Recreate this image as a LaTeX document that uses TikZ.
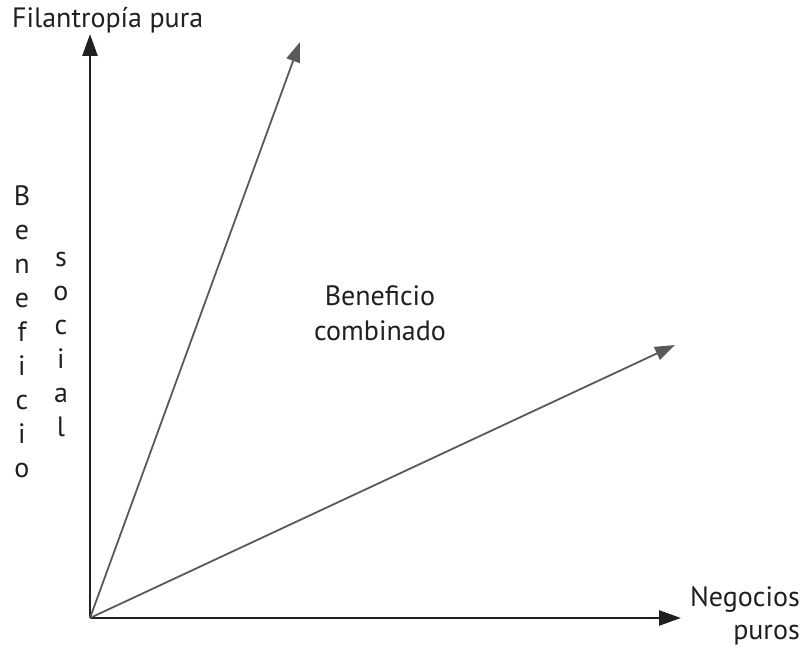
\documentclass[tikz,border=0pt]{standalone}
\usepackage{fontspec}
\setmainfont{PT Sans}
\definecolor{axisblack}{RGB}{35, 31, 32}
\definecolor{raygray}{RGB}{88, 89, 91}
\usetikzlibrary{arrows.meta, positioning}

\begin{document}
\begin{tikzpicture}[
  x=1pt, y=-1pt,
  axis/.style={draw=axisblack, line width=2.4pt, -{Triangle[length=22pt, width=15pt]}},
  ray/.style={draw=raygray, line width=1.8pt, -{Triangle[length=20pt, width=14pt]}},
  lbl/.style={font=\fontsize{28}{34}\selectfont, text=axisblack, inner sep=0pt},
  stack/.style={lbl, align=center}
]
  \useasboundingbox (0,0) rectangle (804,650);
  % axes and rays
  \coordinate (o) at (90,618);
  \coordinate (ytop) at (90,34);
  \coordinate (xend) at (681,618);
  \coordinate (upray) at (300,42);
  \coordinate (lowray) at (675,345);
  \draw[axis] (o) -- (ytop);
  \draw[axis] (o) -- (xend);
  \draw[ray] (o) -- (upray);
  \draw[ray] (o) -- (lowray);
  % labels (base = last line)
  \node[lbl, anchor=base west] (phil) at (12,28) {Filantropía pura};
  \node[stack, anchor=base] (benef) at (22,477) {B\\e\\n\\e\\f\\i\\c\\i\\o};
  \node[stack, anchor=base] (soc) at (61,436) {s\\o\\c\\i\\a\\l};
  \node[stack, anchor=base, font=\fontsize{28}{35}\selectfont] (comb) at (380,340) {Beneficio\\combinado};
  \node[lbl, align=right, anchor=base east, font=\fontsize{28}{33}\selectfont] (neg) at (800,639) {Negocios\\puros};
\end{tikzpicture}
\end{document}
